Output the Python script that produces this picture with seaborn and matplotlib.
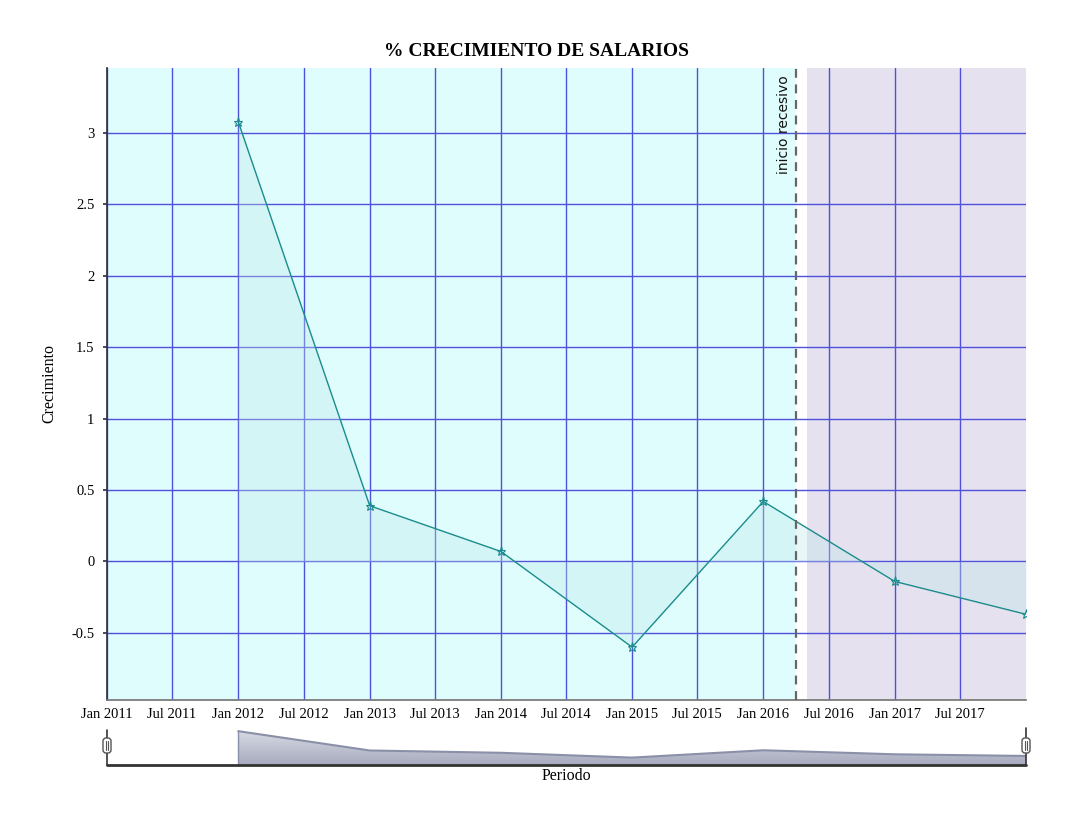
import numpy as np
import pandas as pd
import matplotlib
matplotlib.use("Agg")
import matplotlib.pyplot as plt
import matplotlib.dates as mdates
from matplotlib.patches import FancyBboxPatch, Polygon
from matplotlib.transforms import IdentityTransform
from matplotlib.lines import Line2D
from matplotlib.colors import LinearSegmentedColormap
import seaborn as sns

# ---- data ----
periodos = ["2012-01-01", "2013-01-01", "2014-01-01", "2015-01-01",
            "2016-01-01", "2017-01-01", "2018-01-01"]
crecimiento = [3.08, 0.39, 0.07, -0.60, 0.42, -0.14, -0.37]
y_ticks = [-0.5, 0, 0.5, 1, 1.5, 2, 2.5, 3]
y_tick_labels = ["-0.5", "0", "0.5", "1", "1.5", "2", "2.5", "3"]
x_start, x_end = "2011-01-01", "2018-01-01"
banda_expansiva = ("2011-01-01", "2016-04-01")
banda_recesiva = ("2016-05-01", "2018-01-01")
inicio_recesivo = "2016-04-01"
marcador_texto = "inicio recesivo"

df = pd.DataFrame({"Periodo": pd.to_datetime(periodos), "Crecimiento": crecimiento})

sns.set_theme(style="white")
plt.rcParams["font.family"] = ["Liberation Serif", "DejaVu Serif"]
plt.rcParams["text.color"] = "black"

fig = plt.figure(figsize=(10.72, 8.24), dpi=100)
W, H = 1072, 824
ax = fig.add_axes([107 / W, 1 - 700 / H, (1026 - 107) / W, (700 - 68) / H])

x0, x1 = pd.Timestamp(x_start), pd.Timestamp(x_end)
ax.set_xlim(x0, x1)
ax.set_ylim(-0.97, 3.455)

# background bands
ax.axvspan(pd.Timestamp(banda_expansiva[0]), pd.Timestamp(banda_expansiva[1]),
           color="#e0fdfd", zorder=0, lw=0)
ax.axvspan(pd.Timestamp(banda_recesiva[0]), pd.Timestamp(banda_recesiva[1]),
           color="#e5e1ee", zorder=0, lw=0)

# area + line
ax.fill_between(df["Periodo"], df["Crecimiento"], 0, color="#bfe8ea", alpha=0.35,
                lw=0, zorder=1)
sns.lineplot(data=df, x="Periodo", y="Crecimiento", ax=ax, color="#1a8c8c", lw=1,
             marker="*", markersize=6.5, markeredgewidth=0.8, markerfacecolor="none",
             markeredgecolor="#1a8c8c", zorder=3)

# ticks / grid
ax.set_yticks(y_ticks)
ax.set_yticklabels(y_tick_labels)
xt = pd.date_range(x_start, "2017-07-01", freq="6MS")
ax.set_xticks(xt)
ax.set_xticklabels([d.strftime("%b %Y") for d in xt])
ax.set_axisbelow(True)
ax.grid(True, color="#5050dc", lw=1.0, alpha=1, zorder=0.5)

# recession marker
ax.axvline(pd.Timestamp(inicio_recesivo), color="#666666", ls=(0, (4, 3)), lw=1.6, zorder=4)
ax.text(pd.Timestamp(inicio_recesivo) - pd.Timedelta(days=14), 3.455 - 0.05, marcador_texto,
        rotation=90, ha="right", va="top", fontsize=10, family="DejaVu Sans", color="#111111")

for s in ["top", "right"]:
    ax.spines[s].set_visible(False)
ax.spines["left"].set_color("#333344")
ax.spines["bottom"].set_color("#777777")
ax.tick_params(axis="both", labelsize=10.5, colors="black", length=0, pad=6)
ax.tick_params(axis="y", left=True, length=3, color="#333344")
ax.set_xlabel("")
ax.set_ylabel("Crecimiento", fontsize=11.5, labelpad=2, color="black")
ax.yaxis.set_label_coords(-50 / (1026 - 107), 0.5)
fig.suptitle("% CRECIMIENTO DE SALARIOS", x=0.5, y=1 - 51 / H, va="center",
             fontsize=14, fontweight="bold", color="black")

# ---- navigator ----
nav = fig.add_axes([107 / W, 1 - 765 / H, (1026 - 107) / W, (765 - 728) / H])
nav.set_xlim(x0, x1)
ylo, yhi = -1.63, 3.52
nav.set_ylim(ylo, yhi)
grad = np.linspace(0, 1, 64).reshape(-1, 1)
cmap = LinearSegmentedColormap.from_list("nav", ["#a7abbe", "#dcdee8"])
im = nav.imshow(grad, aspect="auto", cmap=cmap, origin="lower",
                extent=[mdates.date2num(x0), mdates.date2num(x1), ylo, yhi], zorder=1)
xs = mdates.date2num(df["Periodo"])
poly = Polygon(np.column_stack([np.r_[xs[0], xs, xs[-1]],
                                np.r_[ylo, df["Crecimiento"].values, ylo]]),
               closed=True, transform=nav.transData, fc="none", ec="none")
nav.add_patch(poly)
im.set_clip_path(poly)
nav.plot(df["Periodo"], df["Crecimiento"], color="#8a90a8", lw=1.5, zorder=2)
nav.plot([df["Periodo"].iloc[0]] * 2, [ylo, df["Crecimiento"].iloc[0]], color="#8a90a8", lw=1, zorder=2)
nav.axis("off")
nav.plot([x0, x1], [ylo, ylo], color="#333333", lw=2, clip_on=False, zorder=3)

# vertical edges and handles in pixel coords
for px, top in [(107, 730), (1026, 728)]:
    fig.add_artist(Line2D([px, px], [H - 765, H - top], color="#333333", lw=1.2,
                          transform=IdentityTransform()))
    b = FancyBboxPatch((px - 4, H - 753), 8, 15, boxstyle="round,pad=0,rounding_size=3",
                       fc="white", ec="#555555", lw=1, transform=IdentityTransform(), zorder=5)
    fig.add_artist(b)
    for dx in (-1.3, 1.3):
        fig.add_artist(Line2D([px + dx, px + dx], [H - 750, H - 741], color="#555555", lw=0.8,
                              transform=IdentityTransform(), zorder=6))

fig.text((107 + 1026) / 2 / W, 1 - 776 / H, "Periodo", ha="center", va="center",
         fontsize=11.5, color="black")

fig.savefig("out.png", dpi=100)
